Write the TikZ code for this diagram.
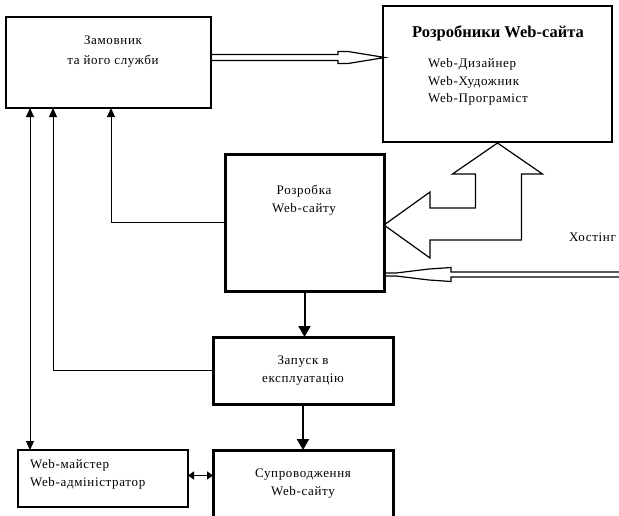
\documentclass[tikz,border=0pt]{standalone}
\usepackage{fontspec}
\setmainfont{Liberation Serif}
\newfontfamily\spaced[LetterSpace=5]{Liberation Serif}
\usetikzlibrary{arrows.meta,calc}
\begin{document}
\begin{tikzpicture}[x=1pt,y=-1pt,
  box/.style={draw,line width=2pt,anchor=north west,inner sep=0pt,outer sep=0pt},
  tbox/.style={draw,line width=3pt,anchor=north west,inner sep=0pt,outer sep=0pt},
  lbl/.style={font=\spaced\fontsize{13}{18}\selectfont,align=center,inner sep=0pt},
  lbll/.style={font=\spaced\fontsize{13}{17.5}\selectfont,align=left,inner sep=0pt,anchor=west},
  thinarr/.style={line width=1pt,-{Triangle[width=8pt,length=9pt]}},
  dblarr/.style={line width=1pt,{Triangle[width=8pt,length=9pt]}-{Triangle[width=8pt,length=9pt]}},
  smalldbl/.style={line width=1.5pt,{Triangle[width=8pt,length=6pt]}-{Triangle[width=8pt,length=6pt]}},
  thickarr/.style={line width=2pt,-{Triangle[width=12pt,length=11pt]}},
  hollow/.style={line width=1.2pt,line join=miter},
]
\useasboundingbox (0,0) rectangle (619,515);
\clip (0,0) rectangle (619,515);

% boxes
\node[box,minimum width=205pt,minimum height=91pt] (zam) at (6,17) {};
\node[box,minimum width=229pt,minimum height=136pt] (dev) at (383,6) {};
\node[tbox,minimum width=159pt,minimum height=137pt] (rd) at (225,154) {};
\node[tbox,minimum width=180pt,minimum height=67pt] (zap) at (213,337) {};
\node[tbox,minimum width=180pt,minimum height=80pt] (sup) at (213,450) {};
\node[box,minimum width=170pt,minimum height=57pt] (wm) at (18,450) {};

% texts
\node[lbl] (zamT) at (113,52) {Замовник\\[2pt]та його служби};
\node[font=\bfseries\fontsize{16.5}{19}\selectfont,inner sep=0pt] (devT) at (498,33) {Розробники Web-сайта};
\node[lbll] (devL) at (428,82) {Web-Дизайнер\\Web-Художник\\Web-Програміст};
\node[lbl] (rdT) at (304,200) {Розробка\\Web-сайту};
\node[lbl] (zapT) at (303,371) {Запуск в\\експлуатацію};
\node[lbl] (supT) at (303,484) {Супроводження\\Web-сайту};
\node[lbll,font=\spaced\fontsize{13}{18}\selectfont] (wmT) at (30,474) {Web-майстер\\Web-адміністратор};
\node[lbl,anchor=west] (host) at (569,237) {Хостінг};

% hollow arrow: customer -> developers
\coordinate (h1s) at ($(zam.east)+(0,-5)$);
\coordinate (h1t) at (dev.west |- h1s);
\draw[hollow] ($(h1s)+(0,-3)$) -- ($(h1t)+(-45,-3)$) -- ($(h1t)+(-45,-6)$)
  -- ($(h1t)+(-35,-6)$) -- ($(h1t)+(2,0)$) -- ($(h1t)+(-35,6)$) -- ($(h1t)+(-45,6)$)
  -- ($(h1t)+(-45,3)$) -- ($(h1s)+(0,3)$);

% hosting arrow -> development
\coordinate (h2t) at ($(rd.east)+(0,52)$);
\coordinate (h2s) at (h2t -| 630,0);
\draw[hollow] ($(h2s)+(0,-2.5)$) -- ($(h2t)+(67,-2.5)$) -- ($(h2t)+(67,-7)$)
  -- ($(h2t)+(45,-5.5)$) -- ($(h2t)+(12,-1.5)$) -- ($(h2t)+(0,-1.5)$) -- ($(h2t)+(0,1.5)$)
  -- ($(h2t)+(12,1.5)$) -- ($(h2t)+(45,5.5)$) -- ($(h2t)+(67,7)$) -- ($(h2t)+(67,2.5)$)
  -- ($(h2s)+(0,2.5)$);

% big L-shaped two-way arrow between developers and development
\coordinate (A) at ($(dev.south)+(0,1)$);
\coordinate (B) at ($(rd.east)+(0,2.5)$);
\draw[hollow] (A) -- ($(A)+(45,31)$) -- ($(A)+(24,31)$) -- ($(A)+(24,97)$)
  -- ($(B)+(46,15)$) -- ($(B)+(46,33)$) -- (B) -- ($(B)+(46,-33)$)
  -- ($(B)+(46,-17)$) -- ($(A)+(-22,65)$) -- ($(A)+(-22,31)$) -- ($(A)+(-45,31)$) -- cycle;

% thin connectors to the customer
\draw[thinarr] (rd.west) -| ($(zam.south west)+(105,0)$);
\draw[thinarr] (zap.west) -| ($(zam.south west)+(47,0)$);
\draw[dblarr] ($(zam.south west)+(24,0)$) -- ($(wm.north west)+(12,0)$);

% main flow
\draw[thickarr] (rd.south) -- (rd.south |- zap.north);
\draw[thickarr] (zap.south) -- (sup.north);
\draw[smalldbl] ($(wm.east)+(0,-3)$) -- ($(wm.east -| sup.west)+(0,-3)$);
\end{tikzpicture}
\end{document}
